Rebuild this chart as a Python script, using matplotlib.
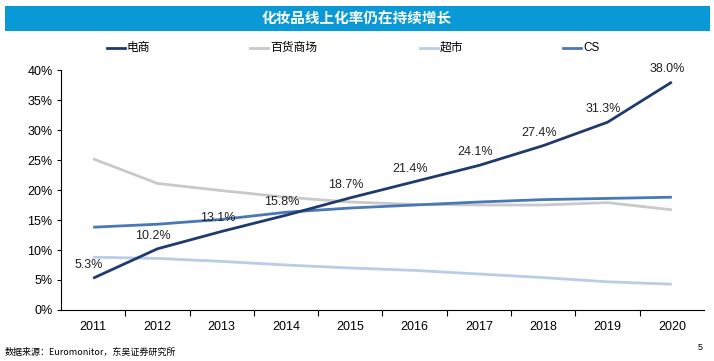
import matplotlib
matplotlib.use("Agg")
import matplotlib.pyplot as plt
from matplotlib.patches import Rectangle
from matplotlib.lines import Line2D

plt.rcParams["font.family"] = ["Liberation Sans", "Noto Sans CJK SC", "DejaVu Sans"]

years = ["2011", "2012", "2013", "2014", "2015", "2016", "2017", "2018", "2019", "2020"]
ecommerce = [5.3, 10.2, 13.1, 15.8, 18.7, 21.4, 24.1, 27.4, 31.3, 38.0]
department = [25.2, 21.1, 19.9, 18.8, 18.0, 17.6, 17.5, 17.5, 17.9, 16.7]
supermarket = [8.8, 8.6, 8.1, 7.5, 7.0, 6.6, 6.0, 5.4, 4.7, 4.3]
cs = [13.8, 14.3, 15.1, 16.3, 17.0, 17.5, 18.0, 18.4, 18.6, 18.8]

series = [
    ("电商", ecommerce, "#1F3A6E"),
    ("百货商场", department, "#C9C9C9"),
    ("超市", supermarket, "#B9CDE6"),
    ("CS", cs, "#4A78B6"),
]

fig = plt.figure(figsize=(7.14, 3.61), dpi=100)
ax = fig.add_axes([0.0854, 0.1413, 0.9006, 0.6647])

x = list(range(len(years)))
# draw grey/light lines first, e-commerce on top
for name, vals, color in [series[1], series[2], series[3], series[0]]:
    ax.plot(x, vals, color=color, linewidth=2.0, solid_capstyle="butt")

for xi, v in zip(x, ecommerce):
    ax.annotate(f"{v:.1f}%", (xi, v), xytext=(-3, 5), textcoords="offset points",
                ha="center", va="bottom", fontsize=9, color="#222222")

ax.set_xlim(-0.5, len(years) - 0.5)
ax.set_ylim(0, 40)
ax.set_yticks(range(0, 41, 5))
ax.set_yticklabels([f"{t}%" for t in range(0, 41, 5)], fontsize=9)
ax.set_xticks(x)
ax.set_xticklabels(years, fontsize=9)
ax.tick_params(axis="x", length=0, pad=8)
ax.tick_params(axis="y", length=3, width=0.8, pad=3)
ax.set_xticks([i + 0.5 for i in x[:-1]], minor=True)
ax.tick_params(axis="x", which="minor", length=4, width=0.8, direction="out")
for s in ["top", "right"]:
    ax.spines[s].set_visible(False)
ax.spines["left"].set_linewidth(0.8)
ax.spines["bottom"].set_linewidth(0.8)

# title bar
fig.patches.append(Rectangle((5 / 714, 1 - 31 / 361), 705 / 714, 25 / 361,
                             transform=fig.transFigure, facecolor="#0899D6",
                             edgecolor="none"))
fig.text(0.5, 1 - 18.5 / 361, "化妆品线上化率仍在持续增长", ha="center", va="center",
         color="white", fontsize=10.5, fontweight="bold",
         family=["Noto Sans CJK SC", "DejaVu Sans"])

# legend
leg_x = [107, 250, 420, 563]
ly = 1 - 48 / 361
for (name, vals, color), lx in zip(series, leg_x):
    fig.add_artist(Line2D([lx / 714, (lx + 18) / 714], [ly, ly], color=color,
                          linewidth=2.0, transform=fig.transFigure))
    fig.text((lx + 20) / 714, ly, name, ha="left", va="center", fontsize=8.5,
             family=["Liberation Sans", "Noto Sans CJK SC"])

fig.text(5 / 714, 1 - 352 / 361, "数据来源：Euromonitor，东吴证券研究所", ha="left",
         va="center", fontsize=6.5, family=["Noto Sans CJK SC", "DejaVu Sans"])
fig.text(700 / 714, 1 - 347 / 361, "5", ha="center", va="center", fontsize=6.5)

fig.savefig("out.png", dpi=100)
